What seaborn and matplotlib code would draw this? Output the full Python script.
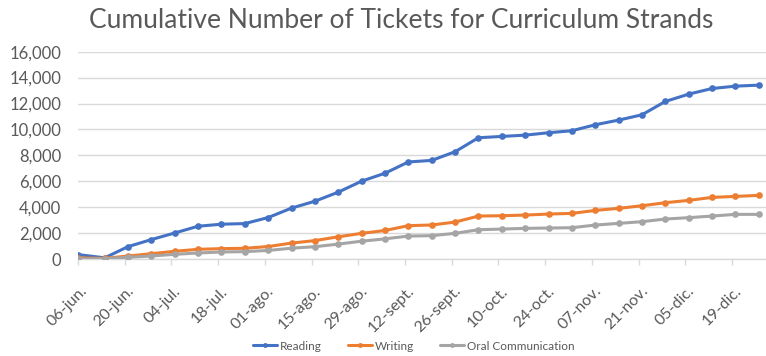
import matplotlib
matplotlib.use("Agg")
import matplotlib.pyplot as plt
import matplotlib.transforms as mtransforms
import seaborn as sns
import pandas as pd

# ---- data ----
dates = ["2022-06-06", "2022-06-14", "2022-06-21", "2022-06-28", "2022-07-05",
         "2022-07-12", "2022-07-19", "2022-07-26", "2022-08-02", "2022-08-09",
         "2022-08-16", "2022-08-23", "2022-08-30", "2022-09-06", "2022-09-13",
         "2022-09-20", "2022-09-27", "2022-10-04", "2022-10-11", "2022-10-18",
         "2022-10-25", "2022-11-01", "2022-11-08", "2022-11-15", "2022-11-22",
         "2022-11-29", "2022-12-06", "2022-12-13", "2022-12-20", "2022-12-27"]
reading = [340, 90, 955, 1500, 2010, 2530, 2685, 2735, 3200, 3930,
           4460, 5160, 6010, 6620, 7490, 7610, 8280, 9360, 9460, 9560,
           9745, 9900, 10360, 10720, 11130, 12160, 12725, 13160, 13340, 13420]
writing = [80, 50, 230, 410, 595, 748, 800, 826, 960, 1230,
           1420, 1715, 1980, 2200, 2574, 2625, 2850, 3315, 3340, 3390,
           3470, 3520, 3750, 3910, 4110, 4345, 4525, 4755, 4830, 4910]
oral = [0, 26, 130, 232, 361, 464, 542, 568, 660, 835,
        950, 1150, 1375, 1555, 1770, 1800, 1980, 2260, 2310, 2365,
        2390, 2415, 2620, 2750, 2880, 3085, 3190, 3315, 3445, 3445]
series_names = ["Reading", "Writing", "Oral Communication"]
tick_dates = ["2022-06-06", "2022-06-20", "2022-07-04", "2022-07-18", "2022-08-01",
              "2022-08-15", "2022-08-29", "2022-09-12", "2022-09-26", "2022-10-10",
              "2022-10-24", "2022-11-07", "2022-11-21", "2022-12-05", "2022-12-19"]
tick_labels = ["06-jun.", "20-jun.", "04-jul.", "18-jul.", "01-ago.", "15-ago.",
               "29-ago.", "12-sept.", "26-sept.", "10-oct.", "24-oct.", "07-nov.",
               "21-nov.", "05-dic.", "19-dic."]
y_ticks = [0, 2000, 4000, 6000, 8000, 10000, 12000, 14000, 16000]
title = "Cumulative Number of Tickets for Curriculum Strands"

# ---- build frame ----
frames = []
for name, vals in zip(series_names, [reading, writing, oral]):
    frames.append(pd.DataFrame({"date": pd.to_datetime(dates), "value": vals, "series": name}))
df = pd.concat(frames, ignore_index=True)

sns.set_theme(style="white")
plt.rcParams["font.family"] = ["Lato", "DejaVu Sans"]

palette = {"Reading": "#4472C4", "Writing": "#ED7D31", "Oral Communication": "#A5A5A5"}
text_color = "#595959"
grid_color = "#D9D9D9"

fig = plt.figure(figsize=(7.66, 3.56), dpi=100)
ax = fig.add_axes([78 / 766, 97 / 356, 1 - 78 / 766, (259 - 51.7) / 356])

sns.lineplot(data=df, x="date", y="value", hue="series", palette=palette,
             hue_order=series_names, marker="o", markersize=4.8, markeredgewidth=0,
             linewidth=2.2, ax=ax, legend=False, zorder=3)

ax.set_xlim(pd.Timestamp("2022-06-06"), pd.Timestamp("2022-12-29 04:00"))
ax.set_ylim(0, 16000)
ax.set_yticks(y_ticks)
ax.set_yticklabels([f"{v:,}" for v in y_ticks])
ax.grid(axis="y", color=grid_color, linewidth=1.0)
ax.set_axisbelow(True)
for s in ["top", "right", "left"]:
    ax.spines[s].set_visible(False)
ax.spines["bottom"].set_color(grid_color)
ax.spines["bottom"].set_linewidth(1.0)

ax.set_xticks(pd.to_datetime(tick_dates))
ax.set_xticklabels(tick_labels, rotation=45, ha="right", va="center",
                   rotation_mode="anchor")
ax.tick_params(axis="x", direction="out", length=4, width=1, color=grid_color,
               labelsize=11.5, labelcolor=text_color, pad=14, bottom=True)
ax.tick_params(axis="y", length=0, labelsize=12, labelcolor=text_color, pad=12)
shift = mtransforms.ScaledTranslation(7 / 100, -5 / 100, fig.dpi_scale_trans)
for lbl in ax.get_xticklabels():
    lbl.set_transform(lbl.get_transform() + shift)
ax.set_xlabel("")
ax.set_ylabel("")

fig.text(401 / 766, 1 - 21 / 356, title, ha="center", va="center",
         fontsize=19, color=text_color)

handles = [plt.Line2D([], [], color=palette[n], marker="o", markersize=3.5,
                      markeredgewidth=0, linewidth=2.2) for n in series_names]
fig.legend(handles, series_names, loc="center", bbox_to_anchor=(414 / 766, 1 - 346 / 356),
           ncol=3, frameon=False, fontsize=8.5, labelcolor=text_color,
           handlelength=2.0, handletextpad=0.3, columnspacing=2.2)

fig.savefig("out.png", dpi=100)
